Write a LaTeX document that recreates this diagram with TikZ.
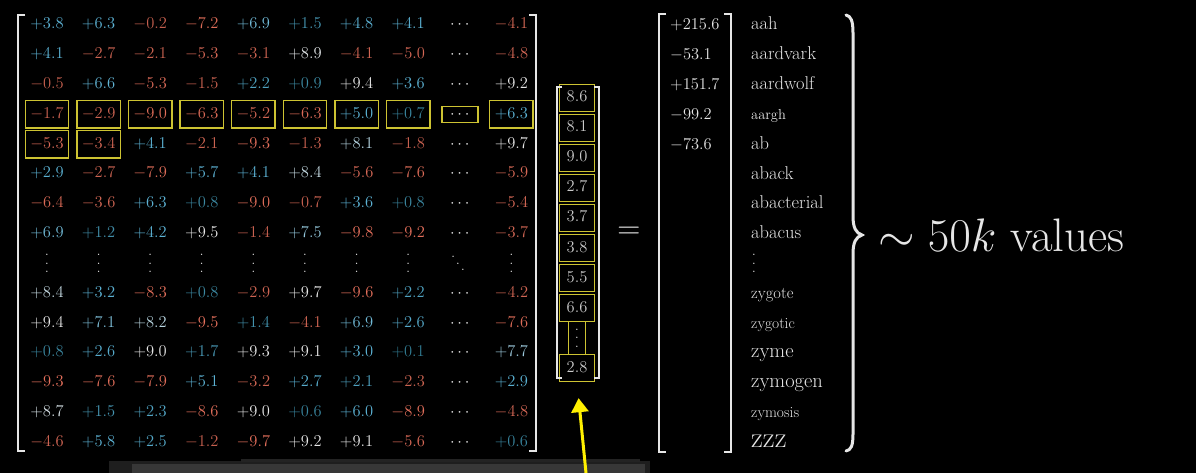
\RequirePackage{fix-cm}
\documentclass[tikz,border=0pt]{standalone}
\usepackage{tikz}
\usetikzlibrary{arrows.meta}
\usetikzlibrary{positioning}
\usetikzlibrary{calc}

\definecolor{posblue}{RGB}{92,178,212}
\definecolor{darkteal}{RGB}{32,100,118}
\definecolor{negred}{RGB}{230,112,92}
\definecolor{numwhite}{RGB}{230,230,230}
\definecolor{boxyellow}{RGB}{205,195,50}
\definecolor{arrowyellow}{RGB}{255,240,0}
\definecolor{stripdark}{RGB}{30,30,30}
\definecolor{stripmid}{RGB}{55,55,55}

\makeatletter
\newcommand\numcell[1]{%
  \edef\cellmag{\strip@pt\dimexpr#1pt\relax}%
  \ifdim\cellmag pt<0pt
    \pgfmathtruncatemacro\pct{85+15*abs(\cellmag)/9.8}%
    \colorlet{cellcol}{negred!\pct!black}%
  \else\ifdim\cellmag pt<3pt
    \pgfmathtruncatemacro\pct{25+75*\cellmag/3}%
    \colorlet{cellcol}{posblue!\pct!darkteal}%
  \else\ifdim\cellmag pt<6.5pt
    \colorlet{cellcol}{posblue}%
  \else
    \pgfmathtruncatemacro\pct{min(100,(\cellmag-6.5)*40)}%
    \colorlet{cellcol}{numwhite!\pct!posblue}%
  \fi\fi\fi
  \textcolor{cellcol}{$#1$}}
\makeatother
\newcommand\tallvdots{\vbox{\baselineskip=8.5pt\lineskiplimit=0pt\hbox{.}\hbox{.}\hbox{.}}}
\newcommand\tallddots{\hbox{\raisebox{13pt}{.}\kern0.8pt\raisebox{6.5pt}{.}\kern0.8pt.}}

\begin{document}
\begin{tikzpicture}[x=1pt,y=-1pt]
		\fill[black] (0,0) rectangle (1196,473);
		\useasboundingbox (0,0) rectangle (1196,473);
		% floor strip
		\fill[stripdark] (109,461) rectangle (650,473);
		\fill[stripmid] (132,464) rectangle (645,473);
		\fill[stripdark!80!stripmid] (241,459) rectangle (640,462);

		\begin{scope}[every node/.style={inner sep=0pt,text=numwhite,
		                 font=\fontsize{16.5}{18}\selectfont},
		              cell/.style={minimum width=43pt,minimum height=27pt,
		                 text height=12pt,text depth=4pt},
		              selbox/.style={draw=boxyellow,line width=1.5pt}]
			\foreach \r/\vals in {
			    1/{+3.8,+6.3,-0.2,-7.2,+6.9,+1.5,+4.8,+4.1,-4.1},
			    2/{+4.1,-2.7,-2.1,-5.3,-3.1,+8.9,-4.1,-5.0,-4.8},
			    3/{-0.5,+6.6,-5.3,-1.5,+2.2,+0.9,+9.4,+3.6,+9.2},
			    4/{-1.7,-2.9,-9.0,-6.3,-5.2,-6.3,+5.0,+0.7,+6.3},
			    5/{-5.3,-3.4,+4.1,-2.1,-9.3,-1.3,+8.1,-1.8,+9.7},
			    6/{+2.9,-2.7,-7.9,+5.7,+4.1,+8.4,-5.6,-7.6,-5.9},
			    7/{-6.4,-3.6,+6.3,+0.8,-9.0,-0.7,+3.6,+0.8,-5.4},
			    8/{+6.9,+1.2,+4.2,+9.5,-1.4,+7.5,-9.8,-9.2,-3.7},
			    10/{+8.4,+3.2,-8.3,+0.8,-2.9,+9.7,-9.6,+2.2,-4.2},
			    11/{+9.4,+7.1,+8.2,-9.5,+1.4,-4.1,+6.9,+2.6,-7.6},
			    12/{+0.8,+2.6,+9.0,+1.7,+9.3,+9.1,+3.0,+0.1,+7.7},
			    13/{-9.3,-7.6,-7.9,+5.1,-3.2,+2.7,+2.1,-2.3,+2.9},
			    14/{+8.7,+1.5,+2.3,-8.6,+9.0,+0.6,+6.0,-8.9,-4.8},
			    15/{-4.6,+5.8,+2.5,-1.2,-9.7,+9.2,+9.1,-5.6,+0.6}} {
				\pgfmathsetmacro\yy{25+(\r-1)*29.8}
				\foreach \v [count=\c] in \vals {
					\pgfmathtruncatemacro\cc{\c<9 ? \c : 10}
					\node[cell] (m-\r-\cc) at ({47+(\cc-1)*51.6},\yy) {\numcell{\v}};
				}
				\node[cell] (m-\r-9) at (459.8,\yy) {$\cdots$};
			}
			\foreach \c in {1,...,8,10}
				\node (m-9-\c) at ({47+(\c-1)*51.6},263.4) {\tallvdots};
			\node (m-9-9) at (458,263.4) {\tallddots};

			% highlighted row
			\foreach \c in {1,...,8,10}
				\draw[selbox] (m-4-\c.north west) rectangle (m-4-\c.south east);
			\draw[selbox] ($(m-4-9)+(-18,-8)$) rectangle ($(m-4-9)+(18,8)$);
			\foreach \c in {1,2}
				\draw[selbox] (m-5-\c.north west) rectangle (m-5-\c.south east);

			% input vector
			\foreach \v [count=\i] in {8.6,8.1,9.0,2.7,3.7,3.8,5.5,6.6}
				\node[cell,selbox,minimum width=35pt,text=numwhite!88!black] (v-\i) at (577,{98+(\i-1)*30}) {$\v$};
			\node[selbox,minimum width=17pt,minimum height=33pt] (v-9) at (577,338) {\tallvdots};
			\node[cell,selbox,minimum width=35pt,text=numwhite!88!black] (v-10) at (577,368) {$2.8$};

			\node[font=\fontsize{32}{34}\selectfont] (eq) at (629,233) {$=$};

			% output vector
			\foreach \v [count=\i] in {+215.6,-53.1,+151.7,-99.2,-73.6}
				\node[anchor=base west] (r-\i) at (670,{30+(\i-1)*29.8}) {$\v$};

			% vocabulary
			\foreach \w/\s [count=\i] in {aah/18.5,aardvark/18.5,aardwolf/18.5,aargh/14.5,
			                              ab/18.5,aback/18.5,abacterial/18.5,abacus/18.5}
				\node[anchor=base west,font=\fontsize{\s}{\s}\selectfont] (w-\i) at (751,{30+(\i-1)*29.8}) {\w};
			\node (w-9) at (754,263.4) {\tallvdots};
			\foreach \w/\s [count=\i from 10] in {zygote/16.5,zygotic/15.5,zyme/20.5,zymogen/20.5,
			                                      zymosis/15.5,zzz/29}
				\node[anchor=base west,font=\fontsize{\s}{\s}\selectfont] (w-\i) at (751,{30+(\i-1)*29.8}) {\w};

			\coordinate (brace) at (862,235);
			\node[font=\fontsize{47}{50}\selectfont,right=16pt of brace] (count) {$\sim 50k$ values};
		\end{scope}

		% brackets
		\begin{scope}[brk/.style={draw=numwhite,line width=1.6pt}]
			\coordinate (ml-top) at (18,15);   \coordinate (ml-bot) at (18,451);
			\coordinate (mr-top) at (536,15);  \coordinate (mr-bot) at (536,451);
			\coordinate (vl-top) at (557,87);  \coordinate (vl-bot) at (557,378);
			\coordinate (vr-top) at (599,87);  \coordinate (vr-bot) at (599,378);
			\coordinate (rl-top) at (659,14);  \coordinate (rl-bot) at (659,452);
			\coordinate (rr-top) at (731,14);  \coordinate (rr-bot) at (731,452);
			\draw[brk] ($(ml-top)+(7,0)$) -- (ml-top) -- (ml-bot) -- ++(7,0);
			\draw[brk] ($(mr-top)+(-7,0)$) -- (mr-top) -- (mr-bot) -- ++(-7,0);
			\draw[brk] ($(vl-top)+(5,0)$) -- (vl-top) -- (vl-bot) -- ++(5,0);
			\draw[brk] ($(vr-top)+(-5,0)$) -- (vr-top) -- (vr-bot) -- ++(-5,0);
			\draw[brk] ($(rl-top)+(7,0)$) -- (rl-top) -- (rl-bot) -- ++(7,0);
			\draw[brk] ($(rr-top)+(-7,0)$) -- (rr-top) -- (rr-bot) -- ++(-7,0);
			% curly brace
			\draw[numwhite,line width=3pt,line cap=round]
				(846,15) .. controls (851,16) and (853,21) .. (853,33) -- (853,216)
				.. controls (853,228) and (856,233) .. (brace)
				.. controls (856,237) and (853,242) .. (853,254) -- (853,434)
				.. controls (853,446) and (851,450) .. (846,451);
		\end{scope}

		% pointer
		\coordinate (arrowfoot) at (586,473);
		\draw[arrowyellow,line width=3pt,-{Triangle[width=17pt,length=14pt]},shorten >=16pt]
			(arrowfoot) -- (v-10.south);
\end{tikzpicture}
\end{document}
